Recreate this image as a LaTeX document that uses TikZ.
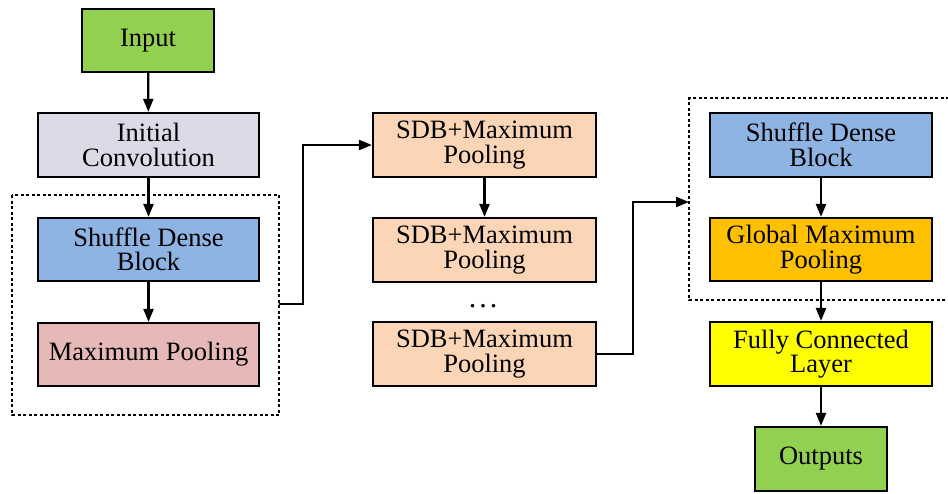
\documentclass[tikz,border=0pt]{standalone}
\usepackage{fontspec}
\setmainfont{Liberation Serif}
\usetikzlibrary{arrows.meta}
\definecolor{cgreen}{HTML}{92D050}
\definecolor{cconv}{HTML}{DDD9E6}
\definecolor{cblue}{HTML}{8EB4E3}
\definecolor{cpink}{HTML}{E6B9B8}
\definecolor{cpeach}{HTML}{FBD5B5}
\definecolor{corange}{HTML}{FFC000}
\definecolor{cyellow}{HTML}{FFFF00}
\begin{document}
\begin{tikzpicture}[x=1pt,y=-1pt,
  box/.style={draw=black,line width=2.2pt,inner sep=0pt,align=center,
    font=\fontsize{26.5}{24.5}\selectfont},
  conn/.style={line width=2.2pt,-{Triangle[length=13pt,width=10pt]}},
  dbox/.style={line width=1.8pt,dash pattern=on 3pt off 2.5pt}]
\useasboundingbox (0,0) rectangle (948,493);
% boxes
\node[box,fill=cgreen,minimum width=132pt,minimum height=63pt] (in) at (148,40.5) {Input};
\node[box,fill=cconv,minimum width=221pt,minimum height=64pt] (ic) at (148.5,145) {Initial\\Convolution};
\node[box,fill=cblue,minimum width=221pt,minimum height=63pt] (sd1) at (148.5,249.5) {Shuffle Dense\\Block};
\node[box,fill=cpink,minimum width=221pt,minimum height=63pt] (mp) at (148.5,354.5) {Maximum Pooling};
\node[box,fill=cpeach,minimum width=223pt,minimum height=64pt] (s1) at (484.5,145) {SDB+Maximum\\Pooling};
\node[box,fill=cpeach,minimum width=223pt,minimum height=64pt] (s2) at (484.5,250) {SDB+Maximum\\Pooling};
\node[font=\fontsize{30}{30}\selectfont,anchor=base,inner sep=0pt] (dots) at (483,307) {.\hspace{3pt}.\hspace{3pt}.};
\node[box,fill=cpeach,minimum width=223pt,minimum height=64pt] (s3) at (484.5,354) {SDB+Maximum\\Pooling};
\node[box,fill=cblue,minimum width=222pt,minimum height=64pt] (sd2) at (821,145) {Shuffle Dense\\Block};
\node[box,fill=corange,minimum width=222pt,minimum height=63pt] (gmp) at (821,249.5) {Global Maximum\\Pooling};
\node[box,fill=cyellow,minimum width=222pt,minimum height=64pt] (fc) at (821,354) {Fully Connected\\Layer};
\node[box,fill=cgreen,minimum width=132pt,minimum height=64pt] (out) at (821,459) {Outputs};
% dashed groups
\draw[dbox] (12,195) rectangle (279,415);
\coordinate (g1r) at (279,304);
\draw[dbox] (960,98) -- (689,98) -- (689,300) -- (960,300);
\coordinate (g2l) at (689,202);
% connectors
\draw[conn] (in) -- (ic);
\draw[conn] (ic) -- (sd1);
\draw[conn] (sd1) -- (mp);
\draw[conn] (g1r) -- (303,304) -- (303,145) -- (s1.west);
\draw[conn] (s1) -- (s2);
\draw[conn] (s3.east) -- (633,354) -- (633,202) -- (g2l);
\draw[conn] (sd2) -- (gmp);
\draw[conn] (gmp) -- (fc);
\draw[conn] (fc) -- (out);
\end{tikzpicture}
\end{document}
